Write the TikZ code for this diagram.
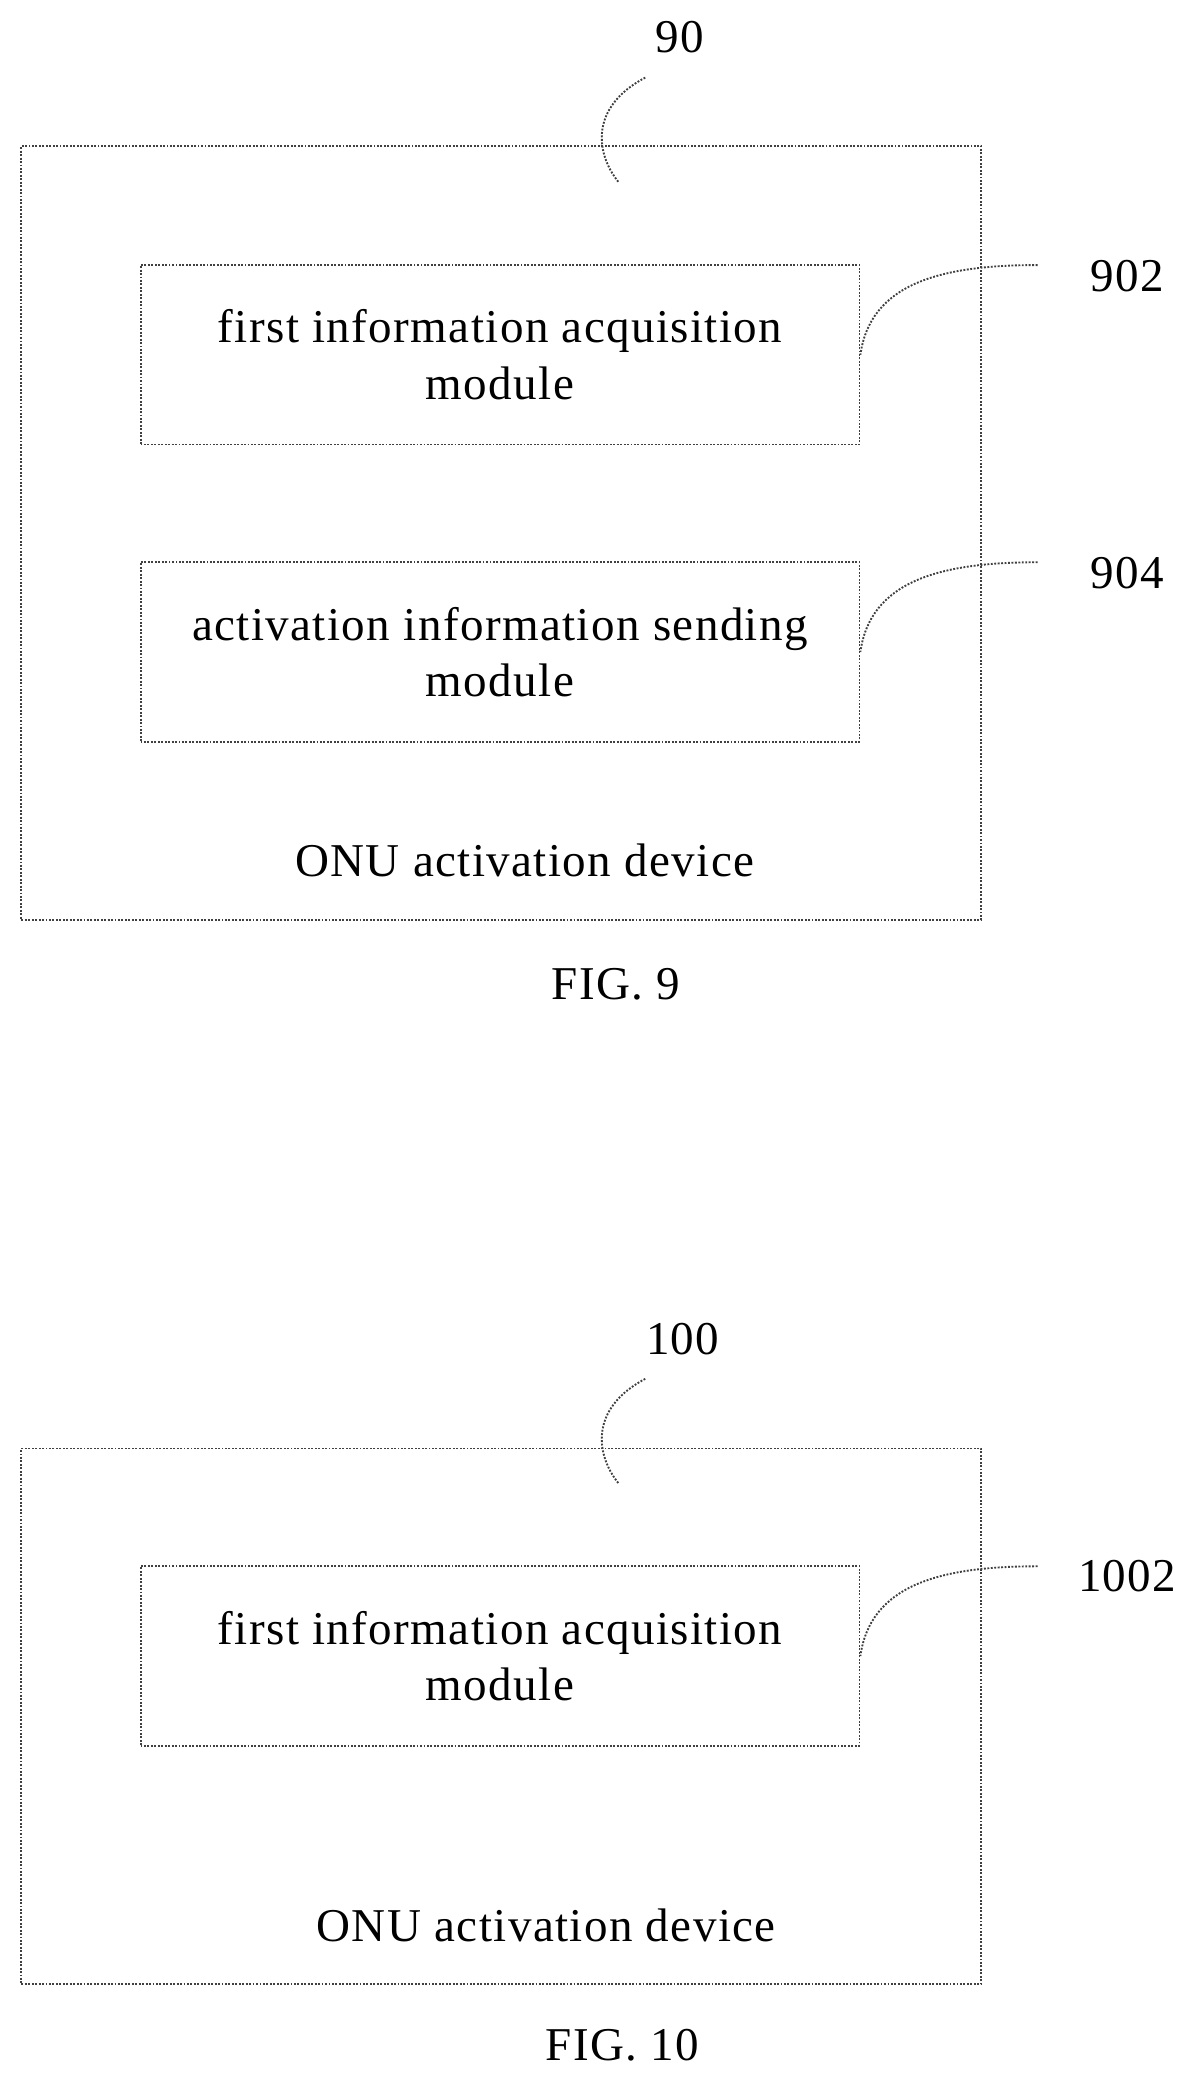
\documentclass[tikz,border=0pt]{standalone}
\usepackage{fontspec}
\setmainfont{Liberation Serif}[LetterSpace=3]
\usetikzlibrary{positioning}
\tikzset{box/.style={draw=black!75, densely dotted, line width=1.2pt},
  lead/.style={draw=black!75, densely dotted, line width=1.2pt},
  txt/.style={font=\fontsize{30}{36}\selectfont, align=center, inner sep=0pt}}
\begin{document}
\begin{tikzpicture}[x=0.03cm,y=-0.03cm]
\useasboundingbox (0,0) rectangle (885,1553);

% FIG. 9
\node (dev9) [box, minimum width=717*0.03cm, minimum height=578*0.03cm] at (374.5,398) {};
\node (m902) [box, minimum width=537*0.03cm, minimum height=134*0.03cm, txt] at (373.5,265) {first information acquisition\\module};
\node (m904) [box, minimum width=537*0.03cm, minimum height=134*0.03cm, txt] at (373.5,487) {activation information sending\\module};
\node (dev9l) [txt] at (392,643) {ONU activation device};
\node (fig9) [txt] at (460,735) {FIG. 9};
\node (l90) [txt] at (508,28) {90};
\node (l902) [txt] at (842,206) {902};
\node (l904) [txt] at (842,428) {904};
\coordinate (c90a) at (482,58);
\coordinate (c90b) at (462,136);
\draw [lead] (c90a) .. controls (440,80) and (445,115) .. (c90b);
\coordinate (c902) at (775,198);
\coordinate (c904) at (775,420);
\draw [lead] (c902) .. controls (700,198) and (650,213) .. (m902.east);
\draw [lead] (c904) .. controls (700,420) and (650,435) .. (m904.east);

% FIG. 10
\node (dev10) [box, minimum width=717*0.03cm, minimum height=400*0.03cm] at (374.5,1282) {};
\node (m1002) [box, minimum width=537*0.03cm, minimum height=134*0.03cm, txt] at (373.5,1237) {first information acquisition\\module};
\node (dev10l) [txt] at (408,1438) {ONU activation device};
\node (fig10) [txt] at (465,1528) {FIG. 10};
\node (l100) [txt] at (510,1000) {100};
\node (l1002) [txt] at (842,1177) {1002};
\coordinate (c100a) at (482,1030);
\coordinate (c100b) at (462,1108);
\draw [lead] (c100a) .. controls (440,1052) and (445,1087) .. (c100b);
\coordinate (c1002) at (775,1170);
\draw [lead] (c1002) .. controls (700,1170) and (650,1185) .. (m1002.east);
\end{tikzpicture}
\end{document}
